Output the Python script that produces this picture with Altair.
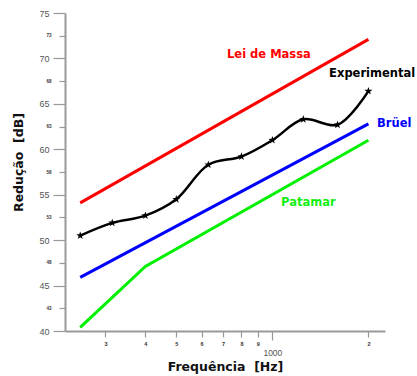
import altair as alt
import pandas as pd

# Third-octave band centre frequencies (Hz) and measured reduction (dB)
freq_exp = [250, 315, 400, 500, 630, 800, 1000, 1250, 1600, 2000]
experimental = [50.5, 51.9, 52.7, 54.5, 58.3, 59.2, 61.0, 63.3, 62.7, 66.4]

# Predicted curves
freq_massa = [250, 2000]
lei_de_massa = [54.1, 72.1]
freq_bruel = [250, 2000]
bruel = [45.9, 62.8]
freq_patamar = [250, 400, 2000]
patamar = [40.4, 47.1, 61.0]

# Curve labels
label_text = ["Lei de Massa", "Experimental", "Brüel", "Patamar"]
label_freq = [721, 1506, 2128, 1065]
label_db = [70.4, 68.3, 62.8, 54.1]
label_color = ["#ff0000", "#000000", "#0000ff", "#11ee11"]

# Axis ticks
y_major = [40, 45, 50, 55, 60, 65, 70, 75]
y_minor = [42.5, 47.5, 52.5, 57.5, 62.5, 67.5, 72.5]
x_minor = [300, 400, 500, 600, 700, 800, 900, 2000]
x_major = [1000]

lines = pd.concat([
    pd.DataFrame({"f": freq_massa, "db": lei_de_massa, "serie": "Lei de Massa"}),
    pd.DataFrame({"f": freq_bruel, "db": bruel, "serie": "Brüel"}),
    pd.DataFrame({"f": freq_patamar, "db": patamar, "serie": "Patamar"}),
])
exp_df = pd.DataFrame({"f": freq_exp, "db": experimental})
labels = pd.DataFrame({"t": label_text, "f": label_freq, "db": label_db, "c": label_color})

xscale = alt.Scale(type="log", domain=[224, 2254], nice=False)
yscale = alt.Scale(domain=[40, 75], nice=False, zero=False)

AX_GRAY = "#999999"
LBL_GRAY = "#555555"
FONT = "Liberation Sans"
BOLD_FONT = "DejaVu Sans"

x_main_axis = alt.Axis(
    orient="bottom", values=x_minor, labelExpr="substring(toString(datum.value), 0, 1)",
    tickSize=6, tickColor=AX_GRAY, tickWidth=1.2, domainColor=AX_GRAY, domainWidth=2,
    labelFontSize=5.5, labelColor="#333333", labelFont=FONT, labelFontWeight="bold",
    labelPadding=4, labelBaseline="top", grid=False, labelFlush=False, labelOverlap=False,
    title="Frequência\u00a0\u00a0[Hz]", titleFont=BOLD_FONT, titleFontSize=12.5,
    titleFontWeight="bold", titleColor="#111111", titleBaseline="middle", titleY=35,
)
y_main_axis = alt.Axis(
    orient="left", values=y_major, tickSize=12, tickColor=AX_GRAY, tickWidth=1.2,
    domainColor=AX_GRAY, domainWidth=2, labelFontSize=9, labelColor=LBL_GRAY,
    labelFont=FONT, labelPadding=4, grid=False, labelFlush=False, labelOverlap=False,
    title="Redução\u00a0\u00a0[dB]", titleFont=BOLD_FONT, titleFontSize=12.5,
    titleFontWeight="bold", titleColor="#111111", titleBaseline="middle",
    titleAlign="center", titleX=-47, titleY=149,
)
x_1000_axis = alt.Axis(
    orient="bottom", values=x_major, format="d", tickSize=9, tickColor=AX_GRAY,
    tickWidth=1.2, domain=False, labelFontSize=8.5, labelColor=LBL_GRAY, labelFont=FONT,
    labelPadding=8, labelBaseline="top", grid=False, title=None, labelFlush=False,
)
y_minor_axis = alt.Axis(
    orient="left", values=y_minor, labelExpr="format(datum.value, '.0f')",
    tickSize=6, tickColor=AX_GRAY, tickWidth=1.2, domain=False,
    labelFontSize=4.5, labelColor="#333333", labelFont=FONT, labelFontWeight="bold",
    labelPadding=8, grid=False, title=None, labelFlush=False, labelOverlap=False,
)

straight = alt.Chart(lines).mark_line(strokeWidth=3).encode(
    x=alt.X("f:Q", scale=xscale, axis=x_main_axis),
    y=alt.Y("db:Q", scale=yscale, axis=y_main_axis),
    color=alt.Color("serie:N", scale=alt.Scale(
        domain=["Lei de Massa", "Brüel", "Patamar"],
        range=["#ff0000", "#0000ff", "#00f000"]), legend=None),
    detail="serie:N",
)

exp_line = alt.Chart(exp_df).mark_line(strokeWidth=2.5, color="black", interpolate="catmull-rom").encode(
    x=alt.X("f:Q", scale=xscale, axis=None),
    y=alt.Y("db:Q", scale=yscale, axis=None),
)

star = "M0,-1L0.235,-0.324L0.951,-0.309L0.38,0.124L0.588,0.809L0,0.4L-0.588,0.809L-0.38,0.124L-0.951,-0.309L-0.235,-0.324Z"
exp_pts = alt.Chart(exp_df).mark_point(shape=star, size=70, filled=True, color="black", opacity=1).encode(
    x=alt.X("f:Q", scale=xscale, axis=None),
    y=alt.Y("db:Q", scale=yscale, axis=None),
)

texts = alt.Chart(labels).mark_text(
    align="left", baseline="middle", font=BOLD_FONT, fontSize=11.5, fontWeight="bold"
).encode(
    x=alt.X("f:Q", scale=xscale, axis=None),
    y=alt.Y("db:Q", scale=yscale, axis=None),
    text="t:N",
    color=alt.Color("c:N", scale=None),
)

# Secondary tick sets (minor dB ticks and the 1000 Hz mark)
extra_axes = alt.Chart(pd.DataFrame({"f": [1000], "db": [50]})).mark_point(opacity=0).encode(
    x=alt.X("f:Q", scale=xscale, axis=x_1000_axis),
    y=alt.Y("db:Q", scale=yscale, axis=y_minor_axis),
)

chart = alt.layer(straight, exp_line, exp_pts, texts, extra_axes).resolve_axis(
    x="independent", y="independent"
).properties(
    width=320, height=318,
    autosize=alt.AutoSizeParams(type="none"),
    padding={"left": 65, "top": 13, "right": 32, "bottom": 45},
    background="white",
).configure_view(stroke=None)

chart.save("out.html", embed_options={"renderer": "svg", "actions": False})
